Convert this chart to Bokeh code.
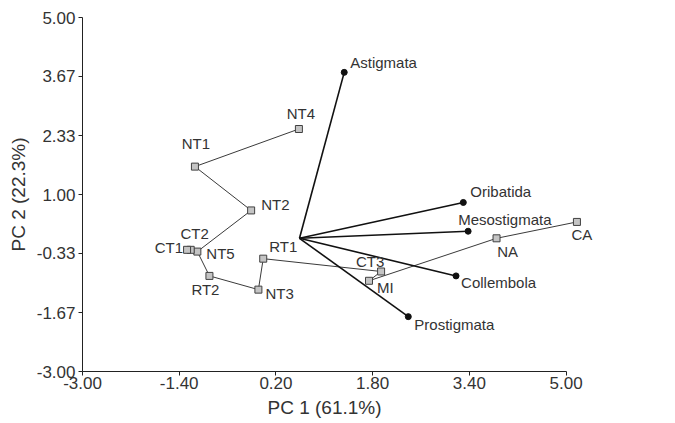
from bokeh.plotting import figure
from bokeh.models import ColumnDataSource, FixedTicker, NumeralTickFormatter, Title
from bokeh.core.properties import value
from bokeh.embed import file_html
from bokeh.resources import INLINE

# ---- data ----
sample_names = ["NT4", "NT1", "NT2", "NT5", "CT2", "CT1", "RT2", "NT3", "RT1", "CT3", "MI", "NA", "CA"]
sample_pc1 = [0.58, -1.14, -0.21, -1.10, -1.21, -1.27, -0.90, -0.09, -0.01, 1.94, 1.74, 3.85, 5.18]
sample_pc2 = [2.48, 1.63, 0.64, -0.29, -0.25, -0.25, -0.84, -1.15, -0.45, -0.74, -0.95, 0.01, 0.38]

species_names = ["Astigmata", "Oribatida", "Mesostigmata", "Collembola", "Prostigmata"]
species_pc1 = [1.33, 3.30, 3.38, 3.18, 2.39]
species_pc2 = [3.76, 0.82, 0.17, -0.84, -1.76]
origin_pc1 = 0.59
origin_pc2 = 0.01

path_edges = [("NT4", "NT1"), ("NT1", "NT2"), ("NT2", "NT5"), ("NT5", "CT2"), ("CT2", "CT1"),
              ("NT5", "RT2"), ("RT2", "NT3"), ("NT3", "RT1"), ("RT1", "CT3"), ("CT3", "MI"),
              ("MI", "NA"), ("NA", "CA")]

x_ticks = [-3.00, -1.40, 0.20, 1.80, 3.40, 5.00]
y_ticks = [-3.00, -1.67, -0.33, 1.00, 2.33, 3.67, 5.00]
x_title = "PC 1 (61.1%)"
y_title = "PC 2 (22.3%)"

# ---- label placement (screen px offsets) ----
sample_dx = [2, 1, 10, 9, 4, -4, -4, 7, 6, -11, 8, 11, 5]
sample_dy = [-16, -23, -6, 2, -16, -2, 14, 4, -12, -10, 7, 13, 13]
sample_align = ["center", "center", "left", "left", "center", "right", "center", "left", "left",
                "center", "left", "center", "center"]
species_dx = [6, 7, -10, 5, 6]
species_dy = [-10, -11, -12, 7, 8]

FONT = "Liberation Sans"
TXT = "#333333"

p = figure(width=675, height=423, output_backend="svg", toolbar_location=None,
           x_range=(-3, 6.0), y_range=(-3, 5),
           min_border_left=82, min_border_right=49, min_border_top=17, min_border_bottom=52)
p.outline_line_color = None
p.xgrid.visible = False
p.ygrid.visible = False
p.background_fill_color = "white"
p.border_fill_color = "white"

for ax, ticks in ((p.xaxis[0], x_ticks), (p.yaxis[0], y_ticks)):
    ax.ticker = FixedTicker(ticks=ticks)
    ax.formatter = NumeralTickFormatter(format="0.00")
    ax.bounds = (-3, 5)
    ax.major_tick_out = 4
    ax.major_tick_in = 0
    ax.minor_tick_out = 0
    ax.minor_tick_in = 0
    ax.axis_line_color = "#222222"
    ax.major_tick_line_color = "#222222"
    ax.major_label_text_font = FONT
    ax.major_label_text_font_size = "17px"
    ax.major_label_text_color = TXT
    ax.axis_label_text_font = FONT
    ax.axis_label_text_font_size = "19px"
    ax.axis_label_text_font_style = "normal"
    ax.axis_label_text_color = TXT

p.yaxis[0].axis_label = y_title
p.yaxis[0].major_label_standoff = 3
p.yaxis[0].axis_label_standoff = 5
p.xaxis[0].major_label_standoff = 1

# x-axis title centred under the drawn axis (-3..5), not under the wider frame
p.add_layout(Title(text=x_title, align="left", offset=185, standoff=6,
                   text_font=FONT, text_font_size="19px", text_font_style="normal",
                   text_color=TXT), "below")

# sample path lines
idx = {n: i for i, n in enumerate(sample_names)}
xs = [[sample_pc1[idx[a]], sample_pc1[idx[b]]] for a, b in path_edges]
ys = [[sample_pc2[idx[a]], sample_pc2[idx[b]]] for a, b in path_edges]
p.multi_line(xs, ys, line_color="#3a3a3a", line_width=1)

# species vectors
sp = ColumnDataSource(dict(x0=[origin_pc1] * len(species_names), y0=[origin_pc2] * len(species_names),
                           x1=species_pc1, y1=species_pc2, name=species_names,
                           dx=species_dx, dy=species_dy))
p.segment(x0="x0", y0="y0", x1="x1", y1="y1", source=sp, line_color="#111111", line_width=1.6)
p.scatter(x="x1", y="y1", source=sp, marker="circle", size=6, fill_color="#111111", line_color="#111111")
p.text(x="x1", y="y1", text="name", source=sp, x_offset="dx", y_offset="dy",
       text_align="left", text_baseline="middle",
       text_font=value(FONT), text_font_size="15px", text_color=TXT)

# samples
ss = ColumnDataSource(dict(x=sample_pc1, y=sample_pc2, name=sample_names,
                           dx=sample_dx, dy=sample_dy, al=sample_align))
p.scatter(x="x", y="y", source=ss, marker="square", size=7, fill_color="#c4c4c4",
          line_color="#404040", line_width=1)
p.text(x="x", y="y", text="name", source=ss, x_offset="dx", y_offset="dy",
       text_align="al", text_baseline="middle",
       text_font=value(FONT), text_font_size="15px", text_color=TXT)

open("out.html", "w").write(file_html(p, INLINE))
